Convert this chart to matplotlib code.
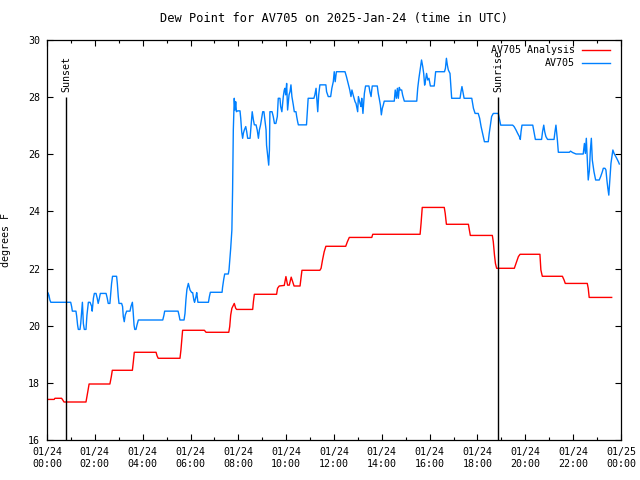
import matplotlib
matplotlib.use("Agg")
import matplotlib.pyplot as plt

# ----- DATA -----
title = "Dew Point for AV705 on 2025-Jan-24 (time in UTC)"
y_label = "degrees F"

# hours since 2025-01-24 00:00 UTC
analysis_hours = [0.00, 0.30, 0.33, 0.61, 0.66, 0.71, 1.63, 1.67, 1.73, 1.76, 2.63, 2.69, 2.73, 3.57, 3.61,
                  3.65, 4.56, 4.60, 4.65, 5.56, 5.60, 5.67, 6.58, 6.65, 7.60, 7.64, 7.68, 7.73, 7.83, 7.89,
                  7.93, 8.60, 8.63, 8.67, 9.60, 9.64, 9.71, 9.92, 9.99, 10.06, 10.13, 10.21, 10.33, 10.58,
                  10.66, 11.41, 11.46, 11.52, 11.59, 11.66, 12.49, 12.56, 12.64, 13.58, 13.62, 15.60, 15.64,
                  15.69, 16.61, 16.65, 16.70, 17.62, 17.66, 17.70, 18.62, 18.66, 18.71, 18.75, 18.80, 19.54,
                  19.61, 19.71, 19.78, 20.61, 20.65, 20.71, 21.55, 21.62, 21.67, 22.59, 22.63, 22.67, 23.61]
analysis_dewpt = [17.42, 17.42, 17.46, 17.46, 17.40, 17.33, 17.33, 17.52, 17.81, 17.96, 17.96, 18.22, 18.44,
                  18.44, 18.74, 19.07, 19.07, 18.95, 18.86, 18.86, 19.15, 19.84, 19.84, 19.77, 19.77, 19.97,
                  20.37, 20.61, 20.78, 20.61, 20.57, 20.57, 20.84, 21.10, 21.10, 21.31, 21.39, 21.41, 21.72,
                  21.42, 21.42, 21.70, 21.39, 21.39, 21.94, 21.94, 22.01, 22.30, 22.59, 22.78, 22.78, 22.94,
                  23.09, 23.09, 23.20, 23.20, 23.58, 24.14, 24.14, 23.93, 23.55, 23.55, 23.35, 23.16, 23.16,
                  22.94, 22.47, 22.18, 22.01, 22.01, 22.18, 22.42, 22.50, 22.50, 21.95, 21.73, 21.73, 21.60,
                  21.48, 21.48, 21.31, 20.99, 20.99]

obs_hours = [0.00, 0.03, 0.08, 0.12, 0.16, 0.99, 1.03, 1.06, 1.21, 1.24, 1.28, 1.31, 1.38, 1.41, 1.48, 1.52,
             1.56, 1.63, 1.67, 1.73, 1.80, 1.87, 1.89, 1.94, 1.98, 2.05, 2.10, 2.14, 2.19, 2.23, 2.47, 2.52,
             2.56, 2.63, 2.70, 2.74, 2.91, 2.94, 2.98, 3.01, 3.12, 3.16, 3.19, 3.23, 3.27, 3.33, 3.47, 3.51,
             3.57, 3.60, 3.64, 3.67, 3.72, 3.76, 3.82, 4.84, 4.89, 4.92, 5.48, 5.52, 5.56, 5.73, 5.77, 5.81,
             5.85, 5.91, 5.98, 6.05, 6.09, 6.14, 6.17, 6.23, 6.26, 6.31, 6.75, 6.79, 6.83, 7.32, 7.34, 7.39,
             7.43, 7.58, 7.61, 7.64, 7.68, 7.73, 7.76, 7.79, 7.83, 7.86, 7.89, 7.92, 7.97, 8.07, 8.10, 8.14,
             8.18, 8.21, 8.25, 8.31, 8.35, 8.39, 8.49, 8.53, 8.58, 8.63, 8.67, 8.74, 8.79, 8.84, 8.88, 8.93,
             9.02, 9.07, 9.11, 9.16, 9.18, 9.23, 9.27, 9.30, 9.32, 9.41, 9.46, 9.51, 9.57, 9.63, 9.67, 9.74,
             9.77, 9.82, 9.88, 9.92, 9.95, 9.98, 10.02, 10.06, 10.12, 10.16, 10.20, 10.24, 10.30, 10.34,
             10.41, 10.44, 10.48, 10.51, 10.85, 10.92, 11.16, 11.20, 11.25, 11.32, 11.36, 11.41, 11.66,
             11.69, 11.76, 11.86, 11.91, 11.97, 12.01, 12.05, 12.10, 12.46, 12.52, 12.59, 12.66, 12.71,
             12.75, 12.80, 12.88, 12.92, 12.99, 13.02, 13.09, 13.13, 13.16, 13.21, 13.27, 13.32, 13.46,
             13.50, 13.55, 13.57, 13.60, 13.81, 13.85, 13.89, 13.94, 13.98, 14.02, 14.06, 14.10, 14.52,
             14.56, 14.61, 14.65, 14.69, 14.73, 14.77, 14.83, 14.87, 14.94, 15.46, 15.50, 15.55, 15.61,
             15.66, 15.71, 15.75, 15.79, 15.83, 15.87, 15.92, 15.97, 16.03, 16.19, 16.25, 16.62, 16.66,
             16.70, 16.74, 16.78, 16.85, 16.92, 17.27, 17.31, 17.35, 17.39, 17.44, 17.76, 17.83, 17.90,
             18.03, 18.09, 18.15, 18.23, 18.29, 18.45, 18.49, 18.54, 18.59, 18.66, 18.87, 18.91, 18.97,
             19.47, 19.53, 19.61, 19.68, 19.75, 19.79, 19.82, 19.86, 20.31, 20.36, 20.42, 20.68, 20.72,
             20.77, 20.81, 20.86, 20.93, 21.20, 21.24, 21.28, 21.34, 21.38, 21.84, 21.89, 21.98, 22.12,
             22.42, 22.47, 22.51, 22.55, 22.59, 22.63, 22.68, 22.72, 22.76, 22.80, 22.87, 22.94, 23.09,
             23.15, 23.22, 23.26, 23.33, 23.37, 23.41, 23.45, 23.49, 23.54, 23.58, 23.62, 23.66, 23.71,
             23.75, 23.82, 23.89, 23.93]
obs_dewpt = [20.67, 21.16, 21.07, 20.90, 20.82, 20.82, 20.67, 20.51, 20.51, 20.34, 20.02, 19.87, 19.87, 20.08,
             20.82, 20.08, 19.87, 19.87, 20.37, 20.82, 20.82, 20.67, 20.51, 20.96, 21.13, 21.13, 20.96, 20.78,
             20.96, 21.13, 21.13, 20.96, 20.78, 20.78, 21.48, 21.73, 21.73, 21.48, 21.02, 20.78, 20.78, 20.67,
             20.32, 20.14, 20.37, 20.51, 20.51, 20.67, 20.82, 20.51, 20.02, 19.87, 19.87, 20.02, 20.20, 20.20,
             20.37, 20.51, 20.51, 20.37, 20.20, 20.20, 20.43, 20.92, 21.27, 21.48, 21.25, 21.16, 21.16, 20.90,
             20.82, 21.02, 21.16, 20.82, 20.82, 21.02, 21.17, 21.17, 21.34, 21.63, 21.81, 21.81, 21.95, 22.26,
             22.70, 23.35, 24.75, 26.85, 27.96, 27.55, 27.84, 27.49, 27.52, 27.52, 27.26, 26.79, 26.56, 26.73,
             26.85, 26.97, 26.79, 26.56, 26.56, 26.97, 27.49, 27.20, 27.03, 27.03, 26.85, 26.56, 26.85, 27.03,
             27.49, 27.49, 27.20, 26.85, 26.32, 25.92, 25.62, 26.15, 27.49, 27.49, 27.32, 27.08, 27.08, 27.32,
             27.96, 27.96, 27.67, 27.49, 28.02, 28.25, 28.31, 28.08, 28.48, 27.55, 28.08, 28.19, 28.43, 28.02,
             27.72, 27.49, 27.49, 27.32, 27.14, 27.03, 27.03, 27.96, 27.96, 28.08, 28.31, 27.49, 28.08, 28.43,
             28.43, 28.19, 28.02, 28.02, 28.31, 28.54, 28.89, 28.54, 28.89, 28.89, 28.72, 28.48, 28.25, 28.02,
             28.25, 28.08, 27.84, 27.78, 27.49, 28.02, 27.78, 27.67, 27.96, 27.43, 28.13, 28.39, 28.39, 28.19,
             28.02, 28.19, 28.39, 28.39, 28.13, 27.96, 27.72, 27.38, 27.61, 27.72, 27.86, 27.86, 28.25, 27.96,
             28.31, 27.96, 28.34, 28.25, 28.25, 28.07, 27.86, 27.86, 28.31, 28.66, 29.01, 29.30, 29.07, 28.83,
             28.42, 28.60, 28.83, 28.60, 28.66, 28.39, 28.39, 28.89, 28.89, 29.01, 29.36, 29.12, 28.95, 28.83,
             27.96, 27.96, 28.19, 28.37, 28.19, 27.96, 27.96, 27.61, 27.43, 27.43, 27.26, 26.97, 26.67, 26.44,
             26.44, 26.73, 27.02, 27.32, 27.43, 27.43, 27.26, 27.02, 27.02, 26.97, 26.85, 26.73, 26.62, 26.52,
             26.79, 27.02, 27.02, 26.79, 26.52, 26.52, 26.79, 27.02, 26.79, 26.62, 26.52, 26.52, 26.79, 27.02,
             26.50, 26.07, 26.07, 26.11, 26.06, 26.01, 26.01, 26.38, 26.03, 26.56, 25.80, 25.10, 25.45, 26.15,
             26.56, 25.80, 25.39, 25.10, 25.10, 25.22, 25.39, 25.51, 25.51, 25.45, 25.10, 24.81, 24.57, 25.22,
             25.68, 25.92, 26.15, 26.03, 25.97, 25.86, 25.74, 25.66]

sunset_hour = 0.81
sunrise_hour = 18.87

tick_hours = list(range(0, 25, 2))
tick_labels = ["01/24\n%02d:00" % h for h in tick_hours[:-1]] + ["01/25\n00:00"]

# ----- PLOT -----
plt.rcParams["font.family"] = "DejaVu Sans Mono"
plt.rcParams["font.size"] = 7.2

fig = plt.figure(figsize=(6.4, 4.8), dpi=100)
ax = fig.add_axes([47 / 640, 40 / 480, 574 / 640, 400 / 480])

ax.plot(analysis_hours, analysis_dewpt, color="#ff0000", linewidth=1.0)
ax.plot(obs_hours, obs_dewpt, color="#0080ff", linewidth=1.0)

# Sunset / sunrise markers
for hr, name in [(sunset_hour, "Sunset"), (sunrise_hour, "Sunrise")]:
    ax.vlines(hr, 16, 28, color="black", linewidth=1.0)
    ax.text(hr, 28.18, name, rotation=90, ha="center", va="bottom")

# Legend drawn gnuplot-style (right aligned text, line after)
legend_items = [("AV705 Analysis", "#ff0000"), ("AV705", "#0080ff")]
for i, (name, col) in enumerate(legend_items):
    yy = 0.975 - i * 0.0325
    ax.text(0.92, yy, name, transform=ax.transAxes, ha="right", va="center")
    ax.plot([0.932, 0.981], [yy, yy], transform=ax.transAxes, color=col, linewidth=1.0)

ax.set_xlim(0, 24)
ax.set_ylim(16, 30)
ax.set_xticks(tick_hours)
ax.set_xticklabels(tick_labels)
ax.set_xticks(range(1, 24, 2), minor=True)
ax.set_yticks(range(16, 31, 2))
ax.tick_params(which="both", direction="in", top=True, right=True, width=0.8)
ax.tick_params(which="major", length=4.5, pad=5)
ax.tick_params(which="minor", length=2.5)
for sp in ax.spines.values():
    sp.set_linewidth(0.9)

ax.set_title(title, pad=13)
ax.set_ylabel(y_label, labelpad=12)

fig.savefig("out.png", dpi=100)
